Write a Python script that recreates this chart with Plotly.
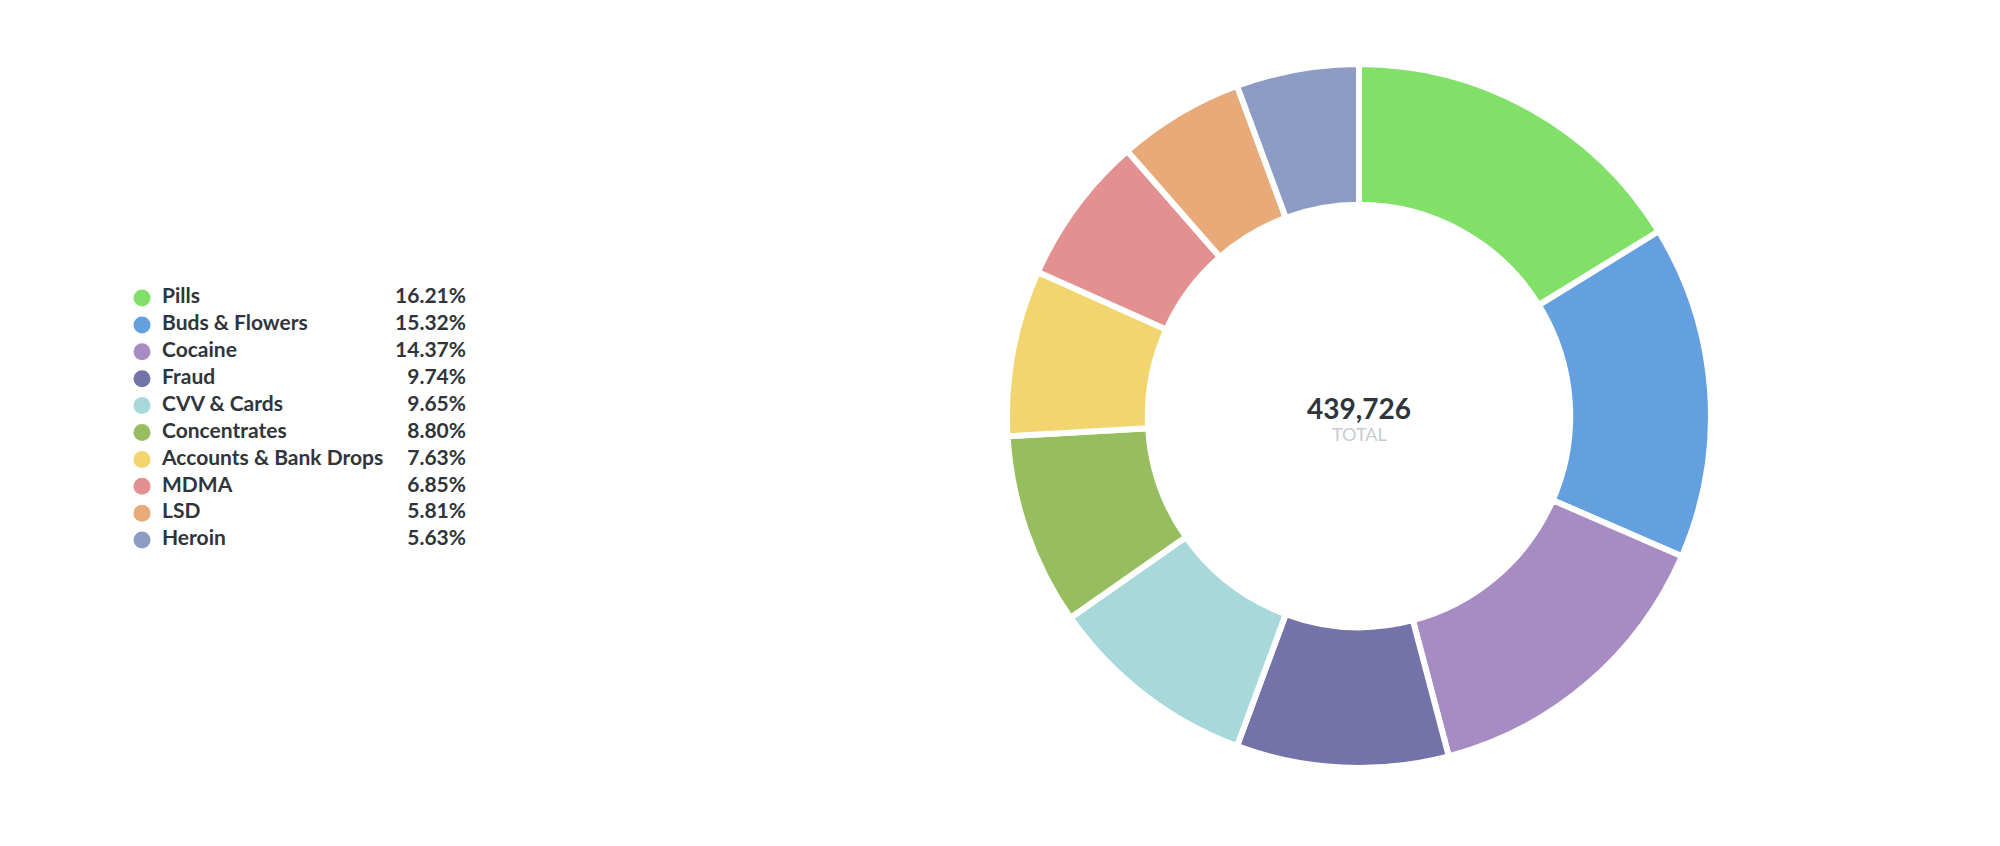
import plotly.graph_objects as go

categories = ["Pills", "Buds & Flowers", "Cocaine", "Fraud", "CVV & Cards",
              "Concentrates", "Accounts & Bank Drops", "MDMA", "LSD", "Heroin"]
percentages = [16.21, 15.32, 14.37, 9.74, 9.65, 8.80, 7.63, 6.85, 5.81, 5.63]
total = 439726
colors = ["#80E068", "#64A0DF", "#A68CC3", "#7473A9", "#A7D8DA",
          "#96BE5F", "#F2D56F", "#E29090", "#E7AA78", "#8C9CC4"]

W, H = 2000, 846
FONT = "Lato"
TEXT_COLOR = "#2F353B"

# donut geometry (pixels)
cx, cy, r = 1359, 416, 352

fig = go.Figure()

fig.add_trace(go.Pie(
    labels=categories,
    values=percentages,
    marker=dict(colors=colors, line=dict(color="white", width=6)),
    hole=0.6,
    sort=False,
    direction="clockwise",
    rotation=0,
    textinfo="none",
    hoverinfo="label+percent",
    showlegend=False,
    domain=dict(x=[(cx - r) / W, (cx + r) / W],
                y=[(H - cy - r) / H, (H - cy + r) / H]),
))

# custom legend
rows = list(range(len(categories)))
y0, dy = 298, 26.9
ys = [y0 + i * dy for i in rows]
fig.add_trace(go.Scatter(
    x=[142] * len(rows), y=ys, mode="markers",
    marker=dict(color=colors, size=17, line=dict(width=0)),
    hoverinfo="skip", showlegend=False, xaxis="x", yaxis="y"))
fig.add_trace(go.Scatter(
    x=[162] * len(rows), y=ys, mode="text", text=categories,
    textposition="middle right",
    textfont=dict(family=FONT, size=21, color=TEXT_COLOR, weight="bold"),
    hoverinfo="skip", showlegend=False, xaxis="x", yaxis="y"))
fig.add_trace(go.Scatter(
    x=[466] * len(rows), y=ys, mode="text",
    text=[f"{p:.2f}%" for p in percentages],
    textposition="middle left",
    textfont=dict(family=FONT, size=21, color=TEXT_COLOR, weight="bold"),
    hoverinfo="skip", showlegend=False, xaxis="x", yaxis="y"))

fig.update_layout(
    width=W, height=H,
    margin=dict(l=0, r=0, t=0, b=0),
    paper_bgcolor="white", plot_bgcolor="white",
    xaxis=dict(range=[0, W], domain=[0, 1], visible=False, fixedrange=True),
    yaxis=dict(range=[H, 0], domain=[0, 1], visible=False, fixedrange=True),
    annotations=[
        dict(x=cx / W, y=1 - 408 / H, xref="paper", yref="paper",
             text=f"{total:,}", showarrow=False,
             font=dict(family=FONT, size=28, color=TEXT_COLOR, weight="bold"),
             xanchor="center", yanchor="middle"),
        dict(x=cx / W, y=1 - 434 / H, xref="paper", yref="paper",
             text="TOTAL", showarrow=False,
             font=dict(family=FONT, size=18, color="#C5CBD2"),
             xanchor="center", yanchor="middle"),
    ],
)

fig.write_html("out.html")
